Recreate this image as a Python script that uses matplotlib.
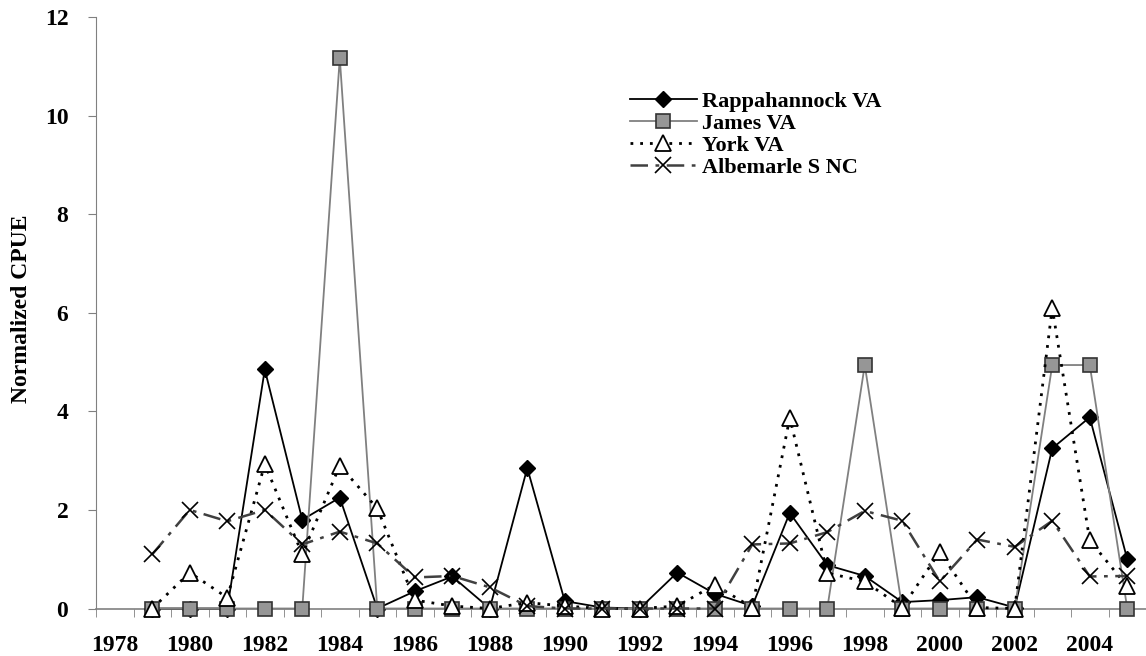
import numpy as np
import matplotlib
matplotlib.use("Agg")
from matplotlib import pyplot as plt

years = list(range(1979, 2006))

rappahannock = [0, 0, 0, 4.85, 1.8, 2.25, 0, 0.35, 0.65, 0, 2.85, 0.15, 0.02, 0,
                0.73, 0.3, 0.05, 1.94, 0.88, 0.66, 0.13, 0.17, 0.23, 0.02,
                3.25, 3.88, 1.0]
james = [0, 0, 0, 0, 0, 11.17, 0, 0, 0, 0, 0, 0, 0, 0,
         0, 0, 0, 0, 0, 4.94, 0, 0, 0, 0,
         4.94, 4.94, 0]
york = [0, 0.73, 0.22, 2.93, 1.1, 2.9, 2.03, 0.17, 0.05, 0, 0.12, 0.05, 0, 0,
        0.05, 0.48, 0.02, 3.87, 0.72, 0.55, 0.02, 1.15, 0.02, 0,
        6.1, 1.38, 0.45]
albemarle = [1.1, 2.0, 1.77, 2.0, 1.3, 1.56, 1.32, 0.63, 0.66, 0.43, 0.05, 0, 0, 0,
             0, 0, 1.3, 1.32, 1.55, 1.98, 1.78, 0.55, 1.4, 1.25,
             1.78, 0.65, 0.66]

plt.rcParams['font.family'] = ['Liberation Serif', 'DejaVu Serif']
plt.rcParams['font.weight'] = 'bold'

fig = plt.figure(figsize=(11.46, 6.56), dpi=100)
ax = fig.add_axes([0.0838, 0.0724, 0.9162, 0.9016])

ax.plot(years, rappahannock, color="black", lw=1.3, marker="D", markersize=8,
        markerfacecolor="black", markeredgecolor="black", label="Rappahannock VA",
        clip_on=False, zorder=3)
ax.plot(years, james, color="#808080", lw=1.3, marker="s", markersize=10.5,
        markerfacecolor="#969696", markeredgecolor="#333333", markeredgewidth=1.2,
        label="James VA", clip_on=False, zorder=4)
ax.plot(years, york, color="black", lw=2, linestyle=(0, (1, 2.5)), marker="^",
        markersize=11, markerfacecolor="white", markeredgecolor="black",
        markeredgewidth=1.3, label="York VA", clip_on=False, zorder=5)
ax.plot(years, albemarle, color="#404040", lw=1.8, linestyle=(0, (7, 3, 1.5, 3)),
        marker="x", markersize=12, markeredgecolor="black", markeredgewidth=1.2,
        label="Albemarle S NC", clip_on=False, zorder=6)

ax.set_xlim(1977.5, 2005.5)
ax.set_ylim(0, 12)
ax.set_xticks(range(1978, 2005, 2))
ax.set_xticklabels([str(y) for y in range(1978, 2005, 2)])
ax.set_xticks(np.arange(1977.5, 2005.6, 1), minor=True)
ax.tick_params(axis="x", which="major", length=0, labelsize=17, pad=19)
ax.tick_params(axis="x", which="minor", length=6, color="#808080", direction="out")
ax.set_yticks(range(0, 13, 2))
ax.tick_params(axis="y", length=6, color="#808080", labelsize=17, pad=14)

for side in ["top", "right"]:
    ax.spines[side].set_visible(False)
ax.spines["left"].set_color("#808080")
ax.spines["bottom"].set_color("#808080")
ax.spines["bottom"].set_linewidth(1.2)

fig.text(22 / 1146, 0.529, "Normalized CPUE", rotation=90, ha="center", va="center",
         fontsize=17, fontweight="bold")

ax.legend(loc="upper left", bbox_to_anchor=(0.540, 0.878), bbox_transform=fig.transFigure,
          frameon=False, fontsize=16, handlelength=3.0, handletextpad=0.25,
          labelspacing=0.07, borderpad=0)

fig.savefig("out.png", dpi=100)
